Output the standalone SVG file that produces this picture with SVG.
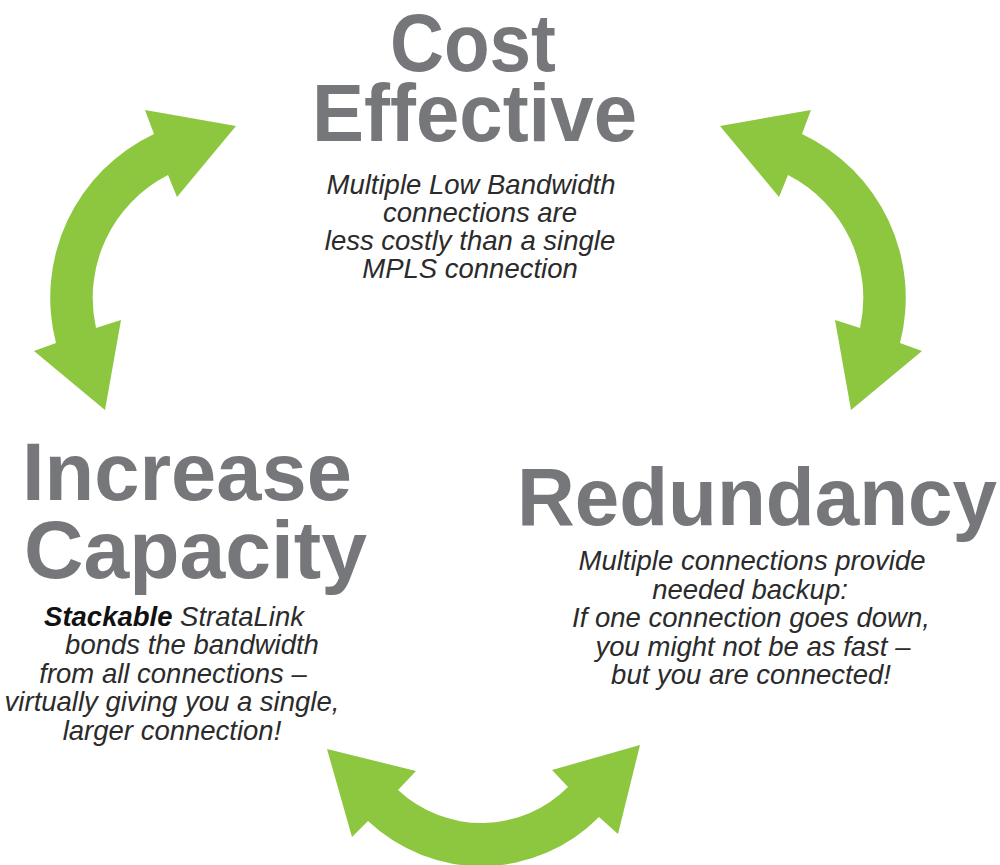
<svg xmlns="http://www.w3.org/2000/svg" width="1000" height="865" viewBox="0 0 1000 865">
<style>
.arrow{fill:#8dc63f;}
.title{font-family:"Liberation Sans",Arial,sans-serif;font-weight:bold;font-size:82px;fill:#76777a;}
.body{font-family:"Liberation Sans",Arial,sans-serif;font-style:italic;font-size:27.5px;fill:#2b2b2b;text-anchor:middle;}
.bold{font-weight:bold;fill:#111;}
</style>
<rect width="1000" height="865" fill="#ffffff"/>
<g id="connectors">
<path id="arrow-left" class="arrow" d="M 236,126 L 145,110 L 154,134 A 181 181 0 0 0 56,343 L 34,351 L 105,410 L 121,320 L 96,328 A 138 138 0 0 1 168,175 L 177,197 Z"/>
<path id="arrow-right" class="arrow" d="M 720,126 L 811,110 L 802,134 A 181 181 0 0 1 900,343 L 922,351 L 851,410 L 835,320 L 860,328 A 138 138 0 0 0 788,175 L 779,197 Z"/>
<path id="arrow-bottom" class="arrow" d="M 327,749 L 416,771 L 398,790 A 122 122 0 0 0 568,787 L 552,770 L 640,745 L 618,834 L 599,817 A 165 165 0 0 1 368,821 L 352,837 Z"/>
</g>
<g id="cost-effective">
<text class="title" x="390" y="71" textLength="166" lengthAdjust="spacingAndGlyphs">Cost</text>
<text class="title" x="312" y="141" textLength="325" lengthAdjust="spacingAndGlyphs">Effective</text>
<text class="body" x="471" y="194">Multiple Low Bandwidth</text>
<text class="body" x="480" y="222">connections are</text>
<text class="body" x="470" y="250">less costly than a single</text>
<text class="body" x="470" y="278">MPLS connection</text>
</g>
<g id="increase-capacity">
<text class="title" x="22" y="500" textLength="330" lengthAdjust="spacingAndGlyphs">Increase</text>
<text class="title" x="24" y="578" textLength="343" lengthAdjust="spacingAndGlyphs">Capacity</text>
<text class="body" x="174" y="626"><tspan class="bold">Stackable</tspan> StrataLink</text>
<text class="body" x="192" y="654">bonds the bandwidth</text>
<text class="body" x="173" y="683">from all connections –</text>
<text class="body" x="172" y="711">virtually giving you a single,</text>
<text class="body" x="172" y="740">larger connection!</text>
</g>
<g id="redundancy">
<text class="title" x="517" y="525" textLength="480" lengthAdjust="spacingAndGlyphs">Redundancy</text>
<text class="body" x="752" y="570">Multiple connections provide</text>
<text class="body" x="750" y="599">needed backup:</text>
<text class="body" x="751" y="627">If one connection goes down,</text>
<text class="body" x="753" y="656">you might not be as fast –</text>
<text class="body" x="751" y="684">but you are connected!</text>
</g>
</svg>
